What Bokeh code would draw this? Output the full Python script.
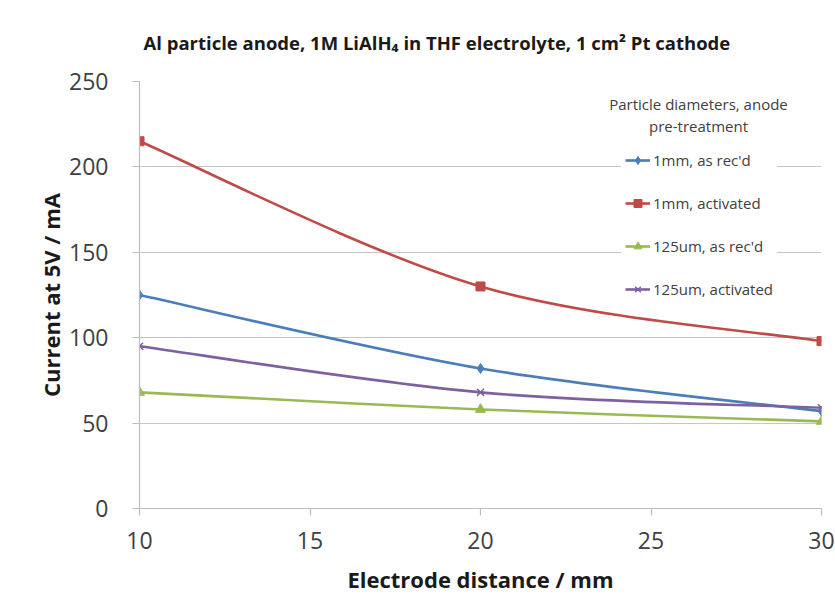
from bokeh.plotting import figure
from bokeh.models import Legend, LegendItem, Label, FixedTicker, Title
from bokeh.embed import file_html
from bokeh.resources import INLINE

# ---------------- data ----------------
distance_mm = [10, 20, 30]
series_names = ["1mm, as rec'd", "1mm, activated", "125um, as rec'd", "125um, activated"]
current_1mm_asrecd = [125, 82, 57]
current_1mm_activated = [215, 130, 98]
current_125um_asrecd = [68, 58, 51]
current_125um_activated = [95, 68, 59]
x_ticks = [10, 15, 20, 25, 30]
y_ticks = [0, 50, 100, 150, 200, 250]
chart_title = "Al particle anode, 1M LiAlH\u2084 in THF electrolyte, 1 cm\u00b2 Pt cathode"
legend_title_lines = ["Particle diameters, anode", "pre-treatment"]
x_label = "Electrode distance / mm"
y_label = "Current at 5V / mA"

series_values = [current_1mm_asrecd, current_1mm_activated,
                 current_125um_asrecd, current_125um_activated]
colors = ["#4A7EBB", "#BE4B48", "#98B954", "#7D60A0"]
markers = ["diamond", "square", "triangle", "x"]
marker_sizes = [10, 9, 10, 10]

FONT = "Open Sans"


def smooth_segments(xs, ys, t=1.0 / 6.0):
    """Bezier control points (Catmull-Rom style smoothing, as in a spreadsheet 'smoothed line')."""
    n = len(xs)
    d = dict(x0=[], y0=[], x1=[], y1=[], cx0=[], cy0=[], cx1=[], cy1=[])
    for i in range(n - 1):
        ip, inn = max(i - 1, 0), min(i + 2, n - 1)
        d["x0"].append(xs[i]); d["y0"].append(ys[i])
        d["x1"].append(xs[i + 1]); d["y1"].append(ys[i + 1])
        d["cx0"].append(xs[i] + (xs[i + 1] - xs[ip]) * t)
        d["cy0"].append(ys[i] + (ys[i + 1] - ys[ip]) * t)
        d["cx1"].append(xs[i + 1] - (xs[inn] - xs[i]) * t)
        d["cy1"].append(ys[i + 1] - (ys[inn] - ys[i]) * t)
    return d


p = figure(width=835, height=607, x_range=(10, 30), y_range=(0, 250),
           output_backend="svg", toolbar_location=None,
           min_border_left=139, min_border_right=14,
           min_border_top=81, min_border_bottom=99)
p.outline_line_color = None
p.background_fill_color = "white"
p.border_fill_color = "white"

# chart title
title = Title(text=chart_title, align="left", offset=4, standoff=54,
              text_font=FONT, text_font_style="bold", text_font_size="18.5px",
              text_color="#1A1A1A")
p.add_layout(title, "above")

# grid
p.xgrid.visible = False
p.ygrid.grid_line_color = "#C6C6C6"
p.ygrid.grid_line_width = 1.2
p.ygrid.ticker = FixedTicker(ticks=y_ticks)

# axes
for ax in (p.xaxis[0], p.yaxis[0]):
    ax.axis_line_color = "#BDBDBD"
    ax.axis_line_width = 1.2
    ax.major_tick_line_color = "#BDBDBD"
    ax.major_tick_line_width = 1.2
    ax.major_tick_out = 7
    ax.major_tick_in = 0
    ax.minor_tick_line_color = None
    ax.major_label_text_font = FONT
    ax.major_label_text_font_size = "23px"
    ax.major_label_text_color = "#404040"
    ax.axis_label_text_font = FONT
    ax.axis_label_text_font_style = "bold"
    ax.axis_label_text_font_size = "22px"
    ax.axis_label_text_color = "#1A1A1A"

p.xaxis.ticker = FixedTicker(ticks=x_ticks)
p.yaxis.ticker = FixedTicker(ticks=y_ticks)
p.xaxis.major_label_standoff = 16
p.yaxis.major_label_standoff = 24
p.xaxis.axis_label = x_label
p.yaxis.axis_label = y_label
p.xaxis.axis_label_standoff = 12
p.yaxis.axis_label_standoff = 0

# series
items = []
for name, vals, col, mk, ms in zip(series_names, series_values, colors, markers, marker_sizes):
    seg = smooth_segments(distance_mm, vals)
    ln = p.bezier(x0=seg["x0"], y0=seg["y0"], x1=seg["x1"], y1=seg["y1"],
                  cx0=seg["cx0"], cy0=seg["cy0"], cx1=seg["cx1"], cy1=seg["cy1"],
                  line_color=col, line_width=2.6)
    sc = p.scatter(distance_mm, vals, marker=mk, size=ms,
                   fill_color=col, line_color=col, line_width=1.5 if mk == "x" else 1)
    items.append(LegendItem(label=name, renderers=[ln, sc]))

legend = Legend(items=items, location=(482, 205))
legend.background_fill_color = "white"
legend.background_fill_alpha = 1.0
legend.border_line_alpha = 0
legend.padding = 4
legend.margin = 0
legend.spacing = 23
legend.glyph_width = 25
legend.glyph_height = 20
legend.label_height = 20
legend.label_standoff = 3
legend.label_text_font = FONT
legend.label_text_font_size = "15px"
legend.label_text_color = "#404040"
p.add_layout(legend, "center")

# legend title (two lines)
for i, line in enumerate(legend_title_lines):
    p.add_layout(Label(x=559, y=405 - 22 * i, x_units="screen", y_units="screen",
                       text=line, text_align="center", text_baseline="middle",
                       text_font=FONT, text_font_size="15px", text_color="#404040"))

open("out.html", "w").write(file_html(p, INLINE))
